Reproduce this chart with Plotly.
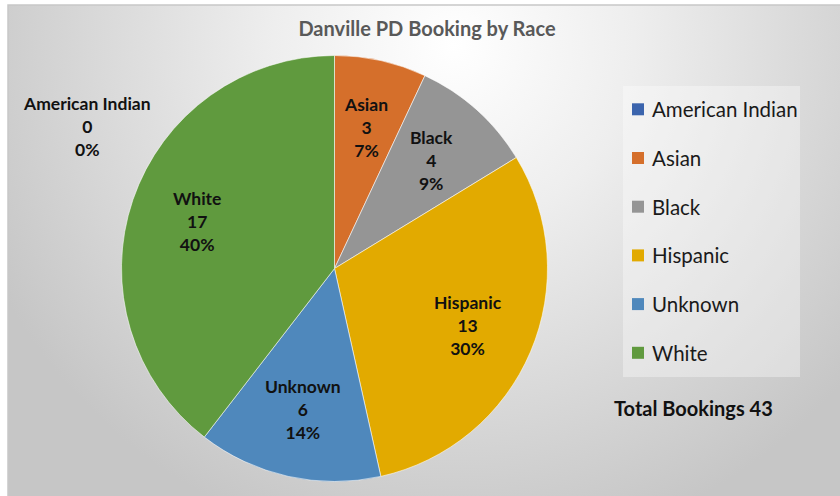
import base64
import math
import plotly.graph_objects as go

# ---- data ----
categories = ["American Indian", "Asian", "Black", "Hispanic", "Unknown", "White"]
values = [0, 3, 4, 13, 6, 17]
colors = ["#3B64AD", "#D56F2B", "#959595", "#E2AA00", "#4F88BC", "#609A3E"]
title_text = "Danville PD Booking by Race"
total_label = "Total Bookings"

W, H = 840, 496
FONT = "Lato"
total = sum(values)

# pixel helpers (margins are zero so paper == pixels)
def px(x):
    return x / W

def py(y):
    return 1 - y / H

# background radial gradient as svg
svg = f'''<svg xmlns="http://www.w3.org/2000/svg" width="{W}" height="{H}" viewBox="0 0 {W} {H}" preserveAspectRatio="none">
<defs><radialGradient id="g" gradientUnits="userSpaceOnUse" cx="450" cy="40" r="520">
<stop offset="0" stop-color="#ffffff"/><stop offset="0.35" stop-color="#eeeeee"/><stop offset="1" stop-color="#c6c6c6"/>
</radialGradient></defs>
<rect x="0" y="0" width="{W}" height="{H}" fill="url(#g)"/></svg>'''
src = "data:image/svg+xml;base64," + base64.b64encode(svg.encode()).decode()

cx, cy, r = 334.5, 268.5, 213

fig = go.Figure(go.Pie(
    labels=categories,
    values=values,
    sort=False,
    direction="clockwise",
    rotation=0,
    marker=dict(colors=colors, line=dict(color="rgba(255,255,255,0.55)", width=1)),
    textinfo="none",
    domain=dict(x=[px(cx - r), px(cx + r)], y=[py(cy + r), py(cy - r)]),
    showlegend=False,
    hoverinfo="label+value+percent",
))

shapes = [
    dict(type="rect", xref="paper", yref="paper", x0=px(8), x1=px(W + 5),
         y0=py(H + 5), y1=py(5), line=dict(color="#c8c8c8", width=1.5), layer="below"),
    # legend box
    dict(type="rect", xref="paper", yref="paper", x0=px(623), x1=px(800),
         y0=py(377), y1=py(86), line=dict(width=0), fillcolor="rgba(255,255,255,0.35)", layer="below"),
]
annotations = []
leg_y0, leg_step = 109.3, 48.7
for i, (c, col) in enumerate(zip(categories, colors)):
    yy = leg_y0 + i * leg_step
    shapes.append(dict(type="rect", xref="paper", yref="paper", x0=px(632), x1=px(644),
                       y0=py(yy + 6), y1=py(yy - 6), line=dict(width=0), fillcolor=col))
    annotations.append(dict(x=px(650), y=py(yy), xref="paper", yref="paper", text=c,
                            showarrow=False, xanchor="left", yanchor="middle",
                            font=dict(family=FONT, size=20.5, color="#1a1a1a")))

# slice data labels: placed along each slice's mid-angle
LABEL_FONT = dict(family=FONT, size=17.5, color="#111111")
cum = 0
for c, v in zip(categories, values):
    txt = f"<b>{c}<br>{v}<br>{round(100*v/total)}%</b>"
    if v == 0:
        annotations.append(dict(x=px(87), y=py(126), xref="paper", yref="paper", text=txt,
                                showarrow=False, xanchor="center", yanchor="middle",
                                font=LABEL_FONT))
    else:
        ang = 2 * math.pi * (cum + v / 2) / total
        lx = cx + 0.68 * r * math.sin(ang)
        ly = cy - 0.68 * r * math.cos(ang)
        annotations.append(dict(x=px(lx), y=py(ly), xref="paper", yref="paper", text=txt,
                                showarrow=False, xanchor="center", yanchor="middle",
                                font=LABEL_FONT))
    cum += v

annotations.append(dict(x=px(612), y=py(408), xref="paper", yref="paper",
                        text=f"<b>{total_label} {total}</b>", showarrow=False,
                        xanchor="left", yanchor="middle",
                        font=dict(family=FONT, size=20, color="#111111")))

fig.update_layout(
    width=W, height=H,
    margin=dict(l=0, r=0, t=0, b=0),
    paper_bgcolor="white",
    title=dict(text=f"<b>{title_text}</b>", x=px(427), y=py(29), xanchor="center", yanchor="middle",
               font=dict(family=FONT, size=20, color="#595959")),
    images=[dict(source=src, xref="paper", yref="paper", x=px(8), y=py(5),
                 sizex=px(W - 8), sizey=(H - 5) / H, sizing="stretch", layer="below",
                 xanchor="left", yanchor="top")],
    shapes=shapes,
    annotations=annotations,
)

fig.write_html("out.html", config={"displayModeBar": False},
               post_script="document.body.style.margin='0px';")
